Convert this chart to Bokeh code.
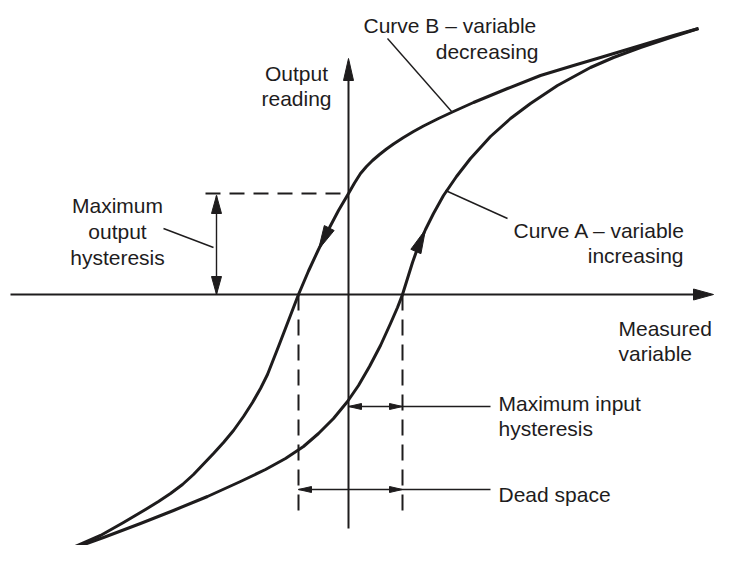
import numpy as np
from bokeh.plotting import figure
from bokeh.models import ColumnDataSource
from bokeh.core.properties import value
from bokeh.embed import file_html
from bokeh.resources import INLINE

# ---- data (diagram units, origin at the axes' crossing) ----
curve_a_x = [-303, -278, -245, -208, -175, -141, -108, -83, -63, -45, -30, -15, -1, 10, 21, 32, 42, 49, 54,
             59, 64, 70, 77, 85, 95, 108, 122, 142, 162, 182, 209, 242, 265, 292, 322, 350]
curve_a_y = [-264, -255, -243, -229, -216, -202, -187, -175, -164, -152, -139, -124, -107, -91, -72, -51, -29, -13, 0,
             16, 32, 49, 65, 81, 99, 118, 136, 158, 176, 191, 209, 227, 237, 247, 257, 266]

curve_b_x = [350, 325, 292, 252, 225, 192, 159, 125, 105, 90, 75, 65, 55, 45, 38, 31, 24, 18, 12, 6, 0,
             -10, -20, -30, -40,
             -50, -60, -70, -81, -88, -96, -105, -115, -125, -135, -155, -166, -178, -190, -203, -225, -248,
             -278, -303]
curve_b_y = [266, 259, 249, 237, 229, 219, 206, 192, 183, 176, 168.5, 163, 157, 150.5, 145.5, 140, 134, 128, 121, 111.5, 101,
             84, 65, 45, 23.5,
             0, -26, -52, -80, -94, -108, -122, -136, -148, -159, -180, -190, -199, -207, -215, -228, -241,
             -254, -264]

x_axis_min, x_axis_max = -338, 365
y_axis_min, y_axis_max = -234, 236
max_output_hysteresis = 101
dead_space_left = -50
dead_space_right = 54
input_hyst_level = -112
dead_space_level = -195
dashed_bottom = -216
out_dim_x = -132
out_dash_left = -143
leader_end_x = 142

text_left = ["Curve B \u2013 variable", "Curve A \u2013 variable", "Measured", "variable",
             "Maximum input", "hysteresis", "Dead space"]
text_left_x = [15, 165, 270, 270, 150, 150, 150]
text_left_y = [269, 64, -34, -59, -109, -134, -200]

text_center = ["Output", "reading", "Maximum", "output", "hysteresis"]
text_center_x = [-52, -52, -231, -231, -231]
text_center_y = [221, 196, 89, 63, 37]

text_right = ["decreasing", "increasing"]
text_right_x = [190, 335]
text_right_y = [243, 39]

leader_xs = [[39, 104], [97, 159], [-185, -135]]
leader_ys = [[256, 182], [104, 76], [66, 47]]

INK = "#1e1c1d"

p = figure(width=715, height=545, x_range=(-348, 367), y_range=(-251, 294),
           output_backend="svg", toolbar_location=None, min_border=0,
           x_axis_type=None, y_axis_type=None)
p.xgrid.visible = False
p.ygrid.visible = False
p.outline_line_color = None
p.background_fill_color = "white"
p.border_fill_color = "white"


def head(tip, d, L, W):
    d = np.array(d, float)
    d /= np.linalg.norm(d)
    n = np.array([-d[1], d[0]])
    t = np.array(tip, float)
    b = t - L * d
    pts = [t, b + W / 2 * n, b - W / 2 * n]
    return [float(q[0]) for q in pts], [float(q[1]) for q in pts]


# axes
p.line([x_axis_min, x_axis_max - 10], [0, 0], line_color=INK, line_width=2)
p.line([0, 0], [y_axis_min, y_axis_max - 10], line_color=INK, line_width=2)

# curves
p.line(curve_a_x, curve_a_y, line_color=INK, line_width=3, line_join="round")
p.line(curve_b_x, curve_b_y, line_color=INK, line_width=3, line_join="round")

# dashed construction lines
p.line([out_dash_left, 0], [max_output_hysteresis, max_output_hysteresis],
       line_color=INK, line_width=2, line_dash="15 9")
p.line([dead_space_left, dead_space_left], [0, dashed_bottom],
       line_color=INK, line_width=2, line_dash="16 9")
p.line([dead_space_right, dead_space_right], [0, dashed_bottom],
       line_color=INK, line_width=2, line_dash="16 9")

# dimension lines
p.line([out_dim_x, out_dim_x], [0, max_output_hysteresis - 2], line_color=INK, line_width=1.4)
p.line([0, leader_end_x], [input_hyst_level, input_hyst_level], line_color=INK, line_width=1.4)
p.line([dead_space_left, leader_end_x], [dead_space_level, dead_space_level], line_color=INK, line_width=1.4)

# leaders
p.multi_line(leader_xs, leader_ys, line_color=INK, line_width=1.4)

# arrowheads
ia, ib = 22, 23
hx, hy = [], []
for tip, d, L, W in [
    ((x_axis_max, 0), (1, 0), 20, 11),
    ((0, y_axis_max), (0, 1), 22, 10),
    ((curve_a_x[ia], curve_a_y[ia]), (curve_a_x[ia] - curve_a_x[ia - 1], curve_a_y[ia] - curve_a_y[ia - 1]), 24, 11),
    ((curve_b_x[ib], curve_b_y[ib]), (curve_b_x[ib] - curve_b_x[ib - 1], curve_b_y[ib] - curve_b_y[ib - 1]), 24, 11),
    ((out_dim_x, max_output_hysteresis - 2), (0, 1), 18, 10),
    ((out_dim_x, 0), (0, -1), 18, 10),
    ((0, input_hyst_level), (-1, 0), 13, 6),
    ((dead_space_right, input_hyst_level), (1, 0), 13, 6),
    ((dead_space_left, dead_space_level), (-1, 0), 13, 6),
    ((dead_space_right, dead_space_level), (1, 0), 13, 6),
]:
    xs, ys = head(tip, d, L, W)
    hx.append(xs)
    hy.append(ys)
p.patches(hx, hy, fill_color=INK, line_color=INK, line_width=1)

# texts
font = value("Liberation Sans")
for txt, xs, ys, align in [(text_left, text_left_x, text_left_y, "left"),
                           (text_center, text_center_x, text_center_y, "center"),
                           (text_right, text_right_x, text_right_y, "right")]:
    src = ColumnDataSource(dict(x=xs, y=ys, text=txt))
    p.text(x="x", y="y", text="text", source=src, text_align=align, text_baseline="alphabetic",
           text_font=font, text_font_size="21px", text_color=INK)

open("out.html", "w").write(file_html(p, INLINE))
